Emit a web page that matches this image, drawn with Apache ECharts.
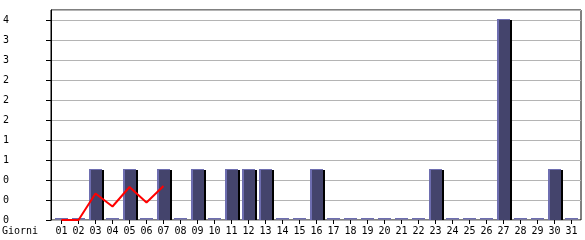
<!DOCTYPE html>
<html>
<head>
<meta charset="utf-8">
<script src="https://cdn.jsdelivr.net/npm/echarts@6/dist/echarts.min.js"></script>
<style>html,body{margin:0;padding:0;background:#fff}#c{width:585px;height:240px}</style>
</head>
<body>
<div id="c"></div>
<script>
const days = ['01','02','03','04','05','06','07','08','09','10','11','12','13','14','15','16','17','18','19','20','21','22','23','24','25','26','27','28','29','30','31'];
const visits = [0,0,1,0,1,0,1,0,1,0,1,1,1,0,0,1,0,0,0,0,0,0,1,0,0,0,4,0,0,1,0];
const trend = [0,0,0.53,0.27,0.66,0.35,0.68];
const yMax = 4.2;
const yStep = 0.4;

const FONT = 'DejaVu Sans Mono';
const chart = echarts.init(document.getElementById('c'), null, {renderer: 'canvas'});

function renderBar(params, api) {
  const ci = api.value(0);
  const v = api.value(1);
  const p = api.coord([ci, v]);
  const b = api.coord([ci, 0]);
  const c = p[0];
  const top = Math.round(p[1]) - 1;
  const bottom = Math.round(b[1]);
  const L = Math.round(c - 6.5), B = Math.round(c + 6.5);
  const kids = [];
  if (v > 0) {
    kids.push({type: 'rect', shape: {x: B, y: top + 1, width: 2, height: bottom - top - 1}, style: {fill: '#000000'}});
    kids.push({type: 'rect', shape: {x: L, y: top, width: B - L, height: bottom - top}, style: {fill: '#44446c'}});
    kids.push({type: 'rect', shape: {x: L, y: top, width: 2, height: bottom - top}, style: {fill: '#6e6eb0'}});
    kids.push({type: 'rect', shape: {x: L, y: top, width: B - L, height: 1}, style: {fill: '#6e6eb0'}});
  } else {
    kids.push({type: 'rect', shape: {x: L, y: bottom - 2, width: B - L, height: 1.5}, style: {fill: '#6e6eb0'}});
  }
  return {type: 'group', children: kids};
}

chart.setOption({
  animation: false,
  title: {text: 'Giorni', left: 2, top: 226, padding: 0,
    textStyle: {fontFamily: FONT, fontSize: 10, fontWeight: 'normal', color: '#000'}},
  grid: [
    {left: 53, right: 5, top: 10, bottom: 20, show: false},
    {left: 50, right: 4, top: 10, bottom: 20, show: true, borderColor: '#000', borderWidth: 1, backgroundColor: 'transparent', z: 0}
  ],
  xAxis: [
    {type: 'category', gridIndex: 0, data: days, boundaryGap: true,
      axisLine: {show: false},
      axisTick: {show: true, alignWithLabel: true, length: 4, lineStyle: {color: '#000'}},
      axisLabel: {interval: 0, margin: 6, fontFamily: FONT, fontSize: 10, color: '#000'},
      splitLine: {show: false}},
    {type: 'value', gridIndex: 1, show: false, min: 0, max: 1}
  ],
  yAxis: [
    {type: 'value', gridIndex: 0, min: 0, max: yMax, interval: yStep, show: false, splitLine: {show: false}},
    {type: 'value', gridIndex: 1, min: 0, max: yMax, interval: yStep,
      axisLine: {show: true, lineStyle: {color: '#000'}},
      axisTick: {show: true, length: 5, lineStyle: {color: '#000'}},
      axisLabel: {align: 'left', margin: 48, fontFamily: FONT, fontSize: 10, color: '#000', showMaxLabel: false,
        formatter: function (v) { return v > 4.1 ? '' : String(Math.floor(v + 1e-9)); }},
      splitLine: {show: true, lineStyle: {color: '#b4b4b4', width: 1}}}
  ],
  series: [
    {type: 'custom', xAxisIndex: 0, yAxisIndex: 0, renderItem: renderBar,
      data: visits.map((v, i) => [i, v]), z: 3},
    {type: 'line', xAxisIndex: 0, yAxisIndex: 0, data: trend, showSymbol: false, symbol: 'none',
      lineStyle: {color: '#ff0000', width: 2}, z: 5}
  ]
});
</script>
</body>
</html>
